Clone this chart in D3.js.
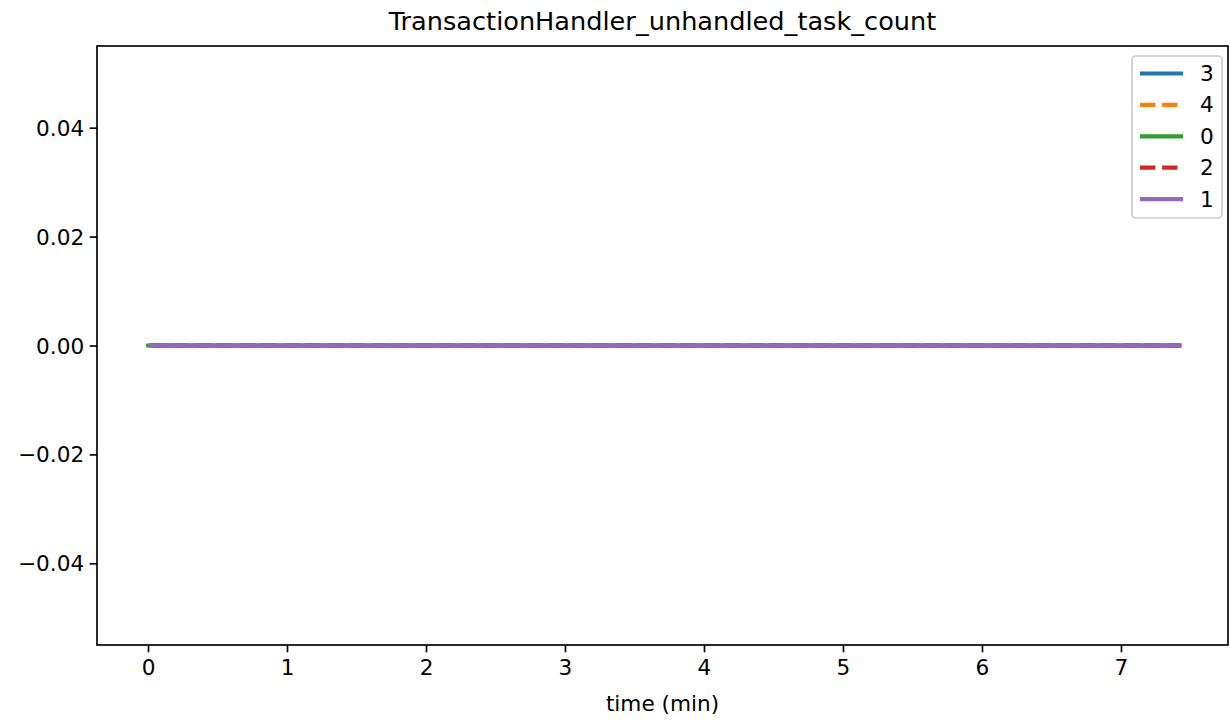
<!DOCTYPE html>
<html><head><meta charset="utf-8">
<script src="https://cdn.jsdelivr.net/npm/d3@7"></script>
<style>body{margin:0;background:#fff}svg{display:block;font-family:"DejaVu Sans",sans-serif}</style>
</head><body><svg id="c" width="1230" height="721"></svg>
<script>
const title = "TransactionHandler_unhandled_task_count";
const xLabel = "time (min)";
const seriesNames = ["3", "4", "0", "2", "1"];
const seriesColors = ["#1f77b4", "#ff7f0e", "#2ca02c", "#d62728", "#9467bd"];
const seriesDashed = [false, true, false, true, false];
const times3 = [0.02, 1, 2, 3, 4, 5, 6, 7, 7.42];
const times4 = [0.02, 1, 2, 3, 4, 5, 6, 7, 7.42];
const times0 = [0, 1, 2, 3, 4, 5, 6, 7, 7.42];
const times2 = [0.02, 1, 2, 3, 4, 5, 6, 7, 7.42];
const times1 = [0.02, 1, 2, 3, 4, 5, 6, 7, 7.42];
const values3 = [0, 0, 0, 0, 0, 0, 0, 0, 0];
const values4 = [0, 0, 0, 0, 0, 0, 0, 0, 0];
const values0 = [0, 0, 0, 0, 0, 0, 0, 0, 0];
const values2 = [0, 0, 0, 0, 0, 0, 0, 0, 0];
const values1 = [0, 0, 0, 0, 0, 0, 0, 0, 0];
const xTicks = [0, 1, 2, 3, 4, 5, 6, 7];
const yTicks = [-0.04, -0.02, 0.00, 0.02, 0.04];

const seriesTimes = [times3, times4, times0, times2, times1];
const seriesValues = [values3, values4, values0, values2, values1];

const svg = d3.select("#c");
const L = 97, R = 1228, T = 46, B = 645;
const fs = 21.6;
const xs = d3.scaleLinear().domain([-0.367, 7.770]).range([L, R]);
const ys = d3.scaleLinear().domain([-0.055, 0.055]).range([B, T]);

const lw = 4.2;
const line = d3.line().x(d => d[0]).y(d => d[1]);

const plot = svg.append("g");
seriesNames.forEach((n, i) => {
  const pts = seriesTimes[i].map((t, j) => [xs(t), ys(seriesValues[i][j])]);
  plot.append("path").attr("d", line(pts)).attr("fill", "none")
    .attr("stroke", seriesColors[i]).attr("stroke-width", lw)
    .attr("stroke-linecap", seriesDashed[i] ? "butt" : "square")
    .attr("stroke-dasharray", seriesDashed[i] ? "15.4,6.7" : null);
});

// axes
const xAxis = d3.axisBottom(xs).tickValues(xTicks).tickFormat(d3.format("d")).tickSizeOuter(0).tickSize(7.3).tickPadding(7);
const yAxis = d3.axisLeft(ys).tickValues(yTicks).tickFormat(d3.format(".2f")).tickSizeOuter(0).tickSize(7.3).tickPadding(5.5);
const gx = svg.append("g").attr("transform", `translate(0,${B})`).call(xAxis);
const gy = svg.append("g").attr("transform", `translate(${L},0)`).call(yAxis);
[gx, gy].forEach(g => {
  g.select(".domain").remove();
  g.selectAll(".tick line").attr("stroke", "#000").attr("stroke-width", 1.67);
  g.selectAll(".tick text").attr("font-size", fs).attr("fill", "#000").attr("font-family", "DejaVu Sans");
});
gy.selectAll(".tick text").attr("dy", "0.35em");

// spines
svg.append("rect").attr("x", L).attr("y", T).attr("width", R - L).attr("height", B - T)
  .attr("fill", "none").attr("stroke", "#000").attr("stroke-width", 1.67);

svg.append("text").attr("x", (L + R) / 2).attr("y", 30).attr("text-anchor", "middle")
  .attr("font-size", 25.6).text(title);
svg.append("text").attr("x", (L + R) / 2).attr("y", 711).attr("text-anchor", "middle")
  .attr("font-size", fs).text(xLabel);

// legend
const lg = svg.append("g");
lg.append("rect").attr("x", 1132).attr("y", 56).attr("width", 90).attr("height", 162)
  .attr("rx", 4).attr("fill", "#fff").attr("fill-opacity", 0.8).attr("stroke", "#cccccc").attr("stroke-width", 1.67);
seriesNames.forEach((n, i) => {
  const yy = 73.5 + i * 31.4;
  lg.append("line").attr("x1", 1140).attr("x2", 1183).attr("y1", yy).attr("y2", yy)
    .attr("stroke", seriesColors[i]).attr("stroke-width", lw)
    .attr("stroke-dasharray", seriesDashed[i] ? "15.4,6.7" : null);
  lg.append("text").attr("x", 1200).attr("y", yy + 7.5).attr("font-size", fs).text(n);
});
</script>
</body></html>
